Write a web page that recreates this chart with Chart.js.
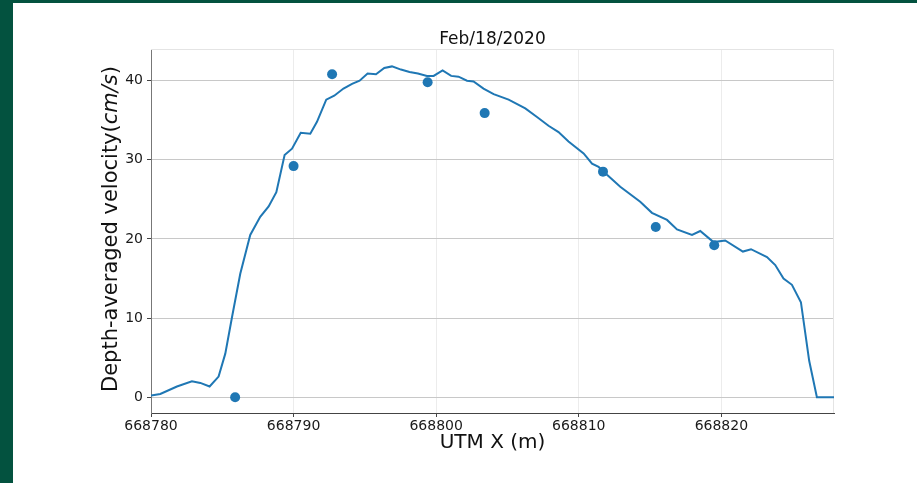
<!DOCTYPE html>
<html>
<head>
<meta charset="utf-8">
<script src="https://cdn.jsdelivr.net/npm/chart.js@4"></script>
<style>
  html, body { margin: 0; padding: 0; background: #fff; }
  canvas { display: block; }
</style>
</head>
<body>
<canvas id="myChart" width="917" height="483" style="width:917px;height:483px"></canvas>
<script>
// measured profile (UTM X, depth-averaged velocity cm/s)
const utmX = [668780.00, 668780.65, 668781.82, 668782.87, 668783.46, 668784.11, 668784.74, 668785.21,
  668785.68, 668786.26, 668786.96, 668787.66, 668788.25, 668788.79, 668789.37, 668789.89, 668790.50,
  668791.17, 668791.64, 668792.29, 668792.85, 668793.50, 668794.10, 668794.63, 668795.19, 668795.78,
  668796.36, 668796.90, 668797.53, 668798.13, 668798.72, 668799.35, 668799.82, 668800.45, 668801.05,
  668801.57, 668802.16, 668802.62, 668803.32, 668804.03, 668805.08, 668806.25, 668807.07, 668807.88,
  668808.58, 668809.28, 668810.34, 668810.93, 668811.39, 668811.98, 668812.91, 668814.31, 668815.13,
  668816.19, 668816.89, 668817.94, 668818.52, 668819.45, 668820.27, 668821.51, 668822.08, 668823.20,
  668823.78, 668824.36, 668824.95, 668825.58, 668826.16, 668826.70, 668827.90];
const velocity = [0.2, 0.4, 1.35, 2.0, 1.8, 1.35, 2.6, 5.5,
  10.1, 15.6, 20.5, 22.8, 24.1, 25.9, 30.6, 31.4, 33.4,
  33.3, 34.8, 37.6, 38.1, 39.0, 39.6, 40.0, 40.9, 40.8,
  41.6, 41.8, 41.4, 41.1, 40.9, 40.6, 40.6, 41.3, 40.6,
  40.5, 40.0, 39.9, 39.0, 38.3, 37.6, 36.5, 35.4, 34.3,
  33.5, 32.3, 30.8, 29.5, 29.1, 28.1, 26.6, 24.7, 23.3,
  22.4, 21.2, 20.5, 21.0, 19.6, 19.8, 18.4, 18.7, 17.7,
  16.7, 15.0, 14.2, 12.0, 4.6, 0, 0];

// observed points
const obsX = [668785.9, 668790.0, 668792.7, 668799.4, 668803.4, 668811.7, 668815.4, 668819.5];
const obsVel = [0, 29.2, 40.8, 39.8, 35.9, 28.5, 21.5, 19.2];

const xTicks = [668780, 668790, 668800, 668810, 668820];
const yTicks = [0, 10, 20, 30, 40];
const title = 'Feb/18/2020';

const blue = '#1f77b4';
const font = 'DejaVu Sans';

const decor = {
  id: 'decor',
  beforeDraw(chart) {
    const c = chart.ctx;
    c.save();
    c.fillStyle = '#fff';
    c.fillRect(0, 0, chart.width, chart.height);
    c.fillStyle = '#03523f';
    c.fillRect(0, 0, 13, chart.height);
    c.fillRect(0, 0, chart.width, 3);
    c.restore();
  },
  beforeDatasetsDraw(chart) {
    const c = chart.ctx, a = chart.chartArea;
    c.save();
    c.strokeStyle = '#e4e4e4';
    c.lineWidth = 1;
    c.beginPath();
    c.moveTo(a.left, a.top + 0.5);
    c.lineTo(a.right - 0.5, a.top + 0.5);
    c.lineTo(a.right - 0.5, a.bottom);
    c.stroke();
    c.restore();
  },
  afterDraw(chart) {
    const c = chart.ctx, a = chart.chartArea;
    const cx = (a.left + a.right) / 2;
    c.save();
    c.fillStyle = '#111';
    c.textAlign = 'center';
    c.textBaseline = 'middle';
    c.font = '17px ' + font;
    c.fillText(title, cx, 40);
    c.font = '20px ' + font;
    c.fillText('UTM X (m)', cx, 443);

    // y title with italic units
    const parts = [['Depth-averaged velocity(', '21px ' + font], ['cm/s', 'italic 21px ' + font], [')', '21px ' + font]];
    let total = 0;
    parts.forEach(p => { c.font = p[1]; total += c.measureText(p[0]).width; });
    c.translate(112, (a.top + a.bottom) / 2 - 2);
    c.rotate(-Math.PI / 2);
    c.textAlign = 'left';
    let x = -total / 2;
    parts.forEach(p => { c.font = p[1]; c.fillText(p[0], x, 0); x += c.measureText(p[0]).width; });
    c.restore();
  }
};

const ctx = document.getElementById('myChart').getContext('2d');
new Chart(ctx, {
  type: 'scatter',
  data: {
    datasets: [
      {
        data: obsX.map((x, i) => ({ x: x, y: obsVel[i] })),
        backgroundColor: blue,
        borderColor: blue,
        pointRadius: 5,
        pointHoverRadius: 5,
        borderWidth: 0
      },
      {
        data: utmX.map((x, i) => ({ x: x, y: velocity[i] })),
        showLine: true,
        borderColor: blue,
        borderWidth: 2,
        pointRadius: 0,
        tension: 0,
        fill: false
      }
    ]
  },
  options: {
    responsive: false,
    animation: false,
    events: [],
    layout: { padding: { left: 0, right: 83, top: 49, bottom: 0 } },
    plugins: { legend: { display: false }, tooltip: { enabled: false } },
    scales: {
      x: {
        type: 'linear',
        min: 668780,
        max: 668827.9,
        afterBuildTicks: s => { s.ticks = xTicks.map(v => ({ value: v })); },
        afterFit: s => { s.height = 70; },
        ticks: {
          autoSkip: false, maxRotation: 0, padding: 1, color: '#1a1a1a',
          font: { family: font, size: 14 },
          callback: v => String(v)
        },
        grid: { color: '#ececec', tickLength: 4, tickColor: '#444' },
        border: { color: '#444', width: 1 }
      },
      y: {
        min: -2,
        max: 44,
        afterBuildTicks: s => { s.ticks = yTicks.map(v => ({ value: v })); },
        afterFit: s => { s.width = 151; },
        ticks: {
          autoSkip: false, padding: 4, color: '#1a1a1a',
          font: { family: font, size: 14 }
        },
        grid: { color: '#c8c8c8', tickLength: 4, tickColor: '#444' },
        border: { color: '#777', width: 1 }
      }
    }
  },
  plugins: [decor]
});
</script>
</body>
</html>
